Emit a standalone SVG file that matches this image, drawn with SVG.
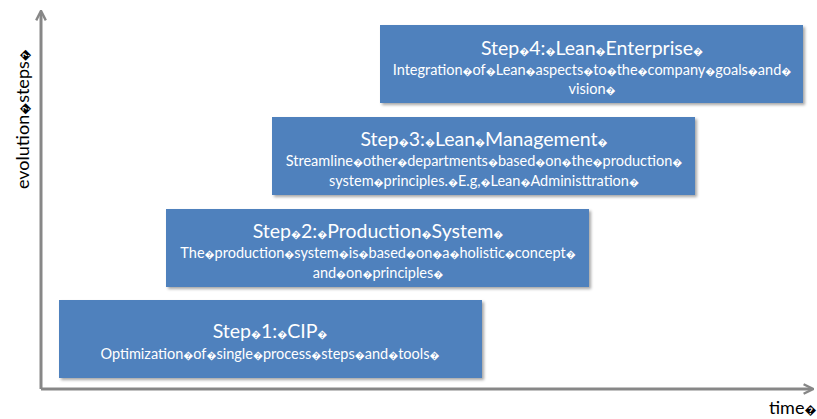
<svg xmlns="http://www.w3.org/2000/svg" width="817" height="419" viewBox="0 0 817 419">
<style>
.box{fill:#4F81BD;filter:url(#sh)}
.t{font-family:Lato,"Open Sans","Liberation Sans",sans-serif;fill:#fff;text-anchor:middle}
.h{font-size:19.5px}
.s{font-size:14.5px}
.q{font-size:10px}
.ax{stroke:#878787;stroke-width:3;fill:none}
.lb{font-family:Lato,"Open Sans","Liberation Sans",sans-serif;font-size:18px;fill:#000}
.lb .q{font-size:12px}
</style>
<defs>
<filter id="sh" x="-5%" y="-10%" width="110%" height="125%">
<feGaussianBlur in="SourceAlpha" stdDeviation="1.5"/>
<feOffset dx="1.5" dy="2" result="b"/>
<feFlood flood-color="#000" flood-opacity="0.35"/>
<feComposite in2="b" operator="in"/>
<feMerge><feMergeNode/><feMergeNode in="SourceGraphic"/></feMerge>
</filter>
<marker id="ar" viewBox="0 0 10 10" refX="8" refY="5" markerWidth="4" markerHeight="4" orient="auto">
<path d="M1,1 L9,5 L1,9" fill="none" stroke="#878787" stroke-width="2"/>
</marker>
</defs>
<g id="connectors">
<path class="ax" d="M41,389 V12" marker-end="url(#ar)"/>
<path class="ax" d="M41,389 H812" marker-end="url(#ar)"/>
</g>
<g id="axis-y-label"><text class="lb" transform="translate(29,189) rotate(-90)">evolution<tspan class="q">�</tspan>steps<tspan class="q">�</tspan></text></g>
<g id="axis-x-label"><text class="lb" x="769" y="414">time<tspan class="q">�</tspan></text></g>
<g id="step4">
<rect class="box" x="380" y="25" width="423" height="78"/>
<text class="t h" x="592" y="55">Step<tspan class="q">�</tspan>4:<tspan class="q">�</tspan>Lean<tspan class="q">�</tspan>Enterprise<tspan class="q">�</tspan></text>
<text class="t s" x="592" y="75">Integration<tspan class="q">�</tspan>of<tspan class="q">�</tspan>Lean<tspan class="q">�</tspan>aspects<tspan class="q">�</tspan>to<tspan class="q">�</tspan>the<tspan class="q">�</tspan>company<tspan class="q">�</tspan>goals<tspan class="q">�</tspan>and<tspan class="q">�</tspan></text>
<text class="t s" x="592" y="94">vision<tspan class="q">�</tspan></text>
</g>
<g id="step3">
<rect class="box" x="272" y="117" width="423" height="78"/>
<text class="t h" x="484" y="146">Step<tspan class="q">�</tspan>3:<tspan class="q">�</tspan>Lean<tspan class="q">�</tspan>Management<tspan class="q">�</tspan></text>
<text class="t s" x="484" y="166">Streamline<tspan class="q">�</tspan>other<tspan class="q">�</tspan>departments<tspan class="q">�</tspan>based<tspan class="q">�</tspan>on<tspan class="q">�</tspan>the<tspan class="q">�</tspan>production<tspan class="q">�</tspan></text>
<text class="t s" x="484" y="186">system<tspan class="q">�</tspan>principles.<tspan class="q">�</tspan>E.g,<tspan class="q">�</tspan>Lean<tspan class="q">�</tspan>Administtration<tspan class="q">�</tspan></text>
</g>
<g id="step2">
<rect class="box" x="166" y="209" width="423" height="78"/>
<text class="t h" x="378" y="238">Step<tspan class="q">�</tspan>2:<tspan class="q">�</tspan>Production<tspan class="q">�</tspan>System<tspan class="q">�</tspan></text>
<text class="t s" x="378" y="258">The<tspan class="q">�</tspan>production<tspan class="q">�</tspan>system<tspan class="q">�</tspan>is<tspan class="q">�</tspan>based<tspan class="q">�</tspan>on<tspan class="q">�</tspan>a<tspan class="q">�</tspan>holistic<tspan class="q">�</tspan>concept<tspan class="q">�</tspan></text>
<text class="t s" x="378" y="278">and<tspan class="q">�</tspan>on<tspan class="q">�</tspan>principles<tspan class="q">�</tspan></text>
</g>
<g id="step1">
<rect class="box" x="59" y="300" width="423" height="78"/>
<text class="t h" x="270" y="338">Step<tspan class="q">�</tspan>1:<tspan class="q">�</tspan>CIP<tspan class="q">�</tspan></text>
<text class="t s" x="270" y="359">Optimization<tspan class="q">�</tspan>of<tspan class="q">�</tspan>single<tspan class="q">�</tspan>process<tspan class="q">�</tspan>steps<tspan class="q">�</tspan>and<tspan class="q">�</tspan>tools<tspan class="q">�</tspan></text>
</g>
</svg>
